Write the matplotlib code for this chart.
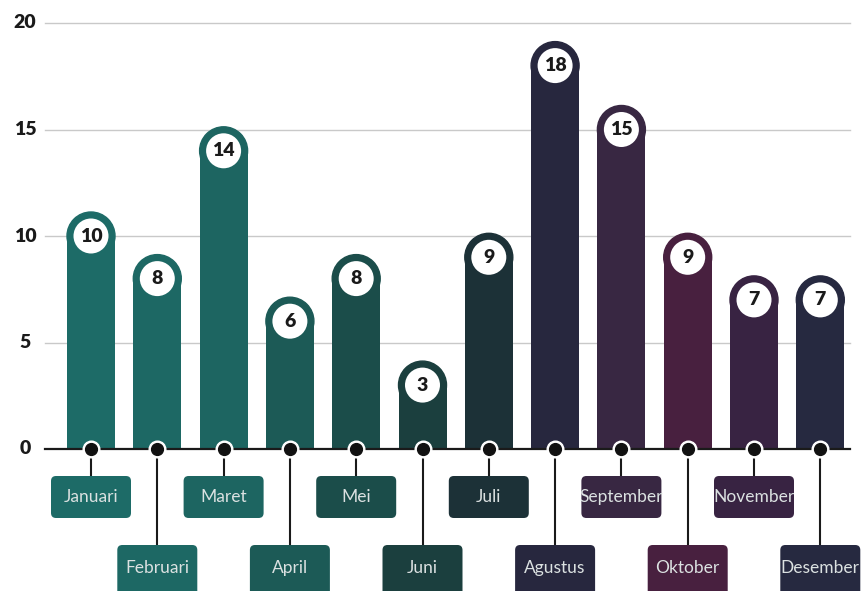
import matplotlib.pyplot as plt
from matplotlib.patches import Ellipse, FancyBboxPatch

months = ['Januari', 'Februari', 'Maret', 'April', 'Mei', 'Juni',
          'Juli', 'Agustus', 'September', 'Oktober', 'November', 'Desember']
values = [10, 8, 14, 6, 8, 3, 9, 18, 15, 9, 7, 7]
colors = ['#1d6b67', '#1d6864', '#1d6561', '#1c5a56', '#1b4d4a', '#1b3f3e',
          '#1c3137', '#27273e', '#382742', '#48203f', '#382342', '#262940']
yticks = [0, 5, 10, 15, 20]

W, H = 868, 591
px_x = 66.3          # pixels per month step
px_y = 21.3          # pixels per unit on the value axis
x0_px, y0_px = 91, 449

fig = plt.figure(figsize=(W / 100, H / 100), dpi=100)
ax = fig.add_axes([0, 0, 1, 1])
ax.set_xlim(-x0_px / px_x, (W - x0_px) / px_x)
ax.set_ylim((y0_px - H) / px_y, y0_px / px_y)
ax.axis('off')

def sx(p):
    return p / px_x

def sy(p):
    return p / px_y

# grid and tick labels
grid_l, grid_r = sx(45 - x0_px), sx(850 - x0_px)
for t in yticks[1:]:
    ax.plot([grid_l, grid_r], [t, t], color='#c9c9c9', lw=1.0, zorder=0)
for t in yticks:
    ax.text(sx(25 - x0_px), t, str(t), ha='center', va='center',
            fontsize=14, fontweight='heavy', color='#1a1a1a', family='Lato')
ax.plot([grid_l, grid_r], [0, 0], color='#1a1a1a', lw=1.6, zorder=3)

bar_w = sx(48)
xs = list(range(len(months)))
ax.bar(xs, values, width=bar_w, color=colors, zorder=2)

for i, (v, c) in enumerate(zip(values, colors)):
    # rounded cap and value badge
    ax.add_patch(Ellipse((i, v), bar_w, sy(48), color=c, zorder=2))
    ax.add_patch(Ellipse((i, v), sx(35), sy(35), facecolor='white',
                         edgecolor='none', zorder=4))
    ax.text(i, v, str(v), ha='center', va='center', fontsize=14,
            fontweight='heavy', color='#1a1a1a', family='Lato', zorder=5)

    # month label box with connector
    lower = i % 2 == 1
    top = sy(-(545 - y0_px)) if lower else sy(-(476 - y0_px))
    bh = sy(52) if lower else sy(42)
    ax.plot([i, i], [0, top], color='#1a1a1a', lw=1.5, zorder=1)
    ax.add_patch(FancyBboxPatch((i - sx(40), top - bh), sx(80), bh,
                                boxstyle='round,pad=0,rounding_size=%f' % sx(5),
                                mutation_aspect=px_x / px_y,
                                facecolor=c, edgecolor='none', zorder=2))
    ty = sy(-(568 - y0_px)) if lower else sy(-(497 - y0_px))
    ax.text(i, ty, months[i], ha='center', va='center', fontsize=12.5,
            color='#dbe1e1', family='Lato', zorder=3)

    # baseline dot
    ax.plot(i, 0, 'o', ms=12, color='white', zorder=6)
    ax.plot(i, 0, 'o', ms=8.5, color='#111111', zorder=7)

fig.savefig('out.png', dpi=100)
